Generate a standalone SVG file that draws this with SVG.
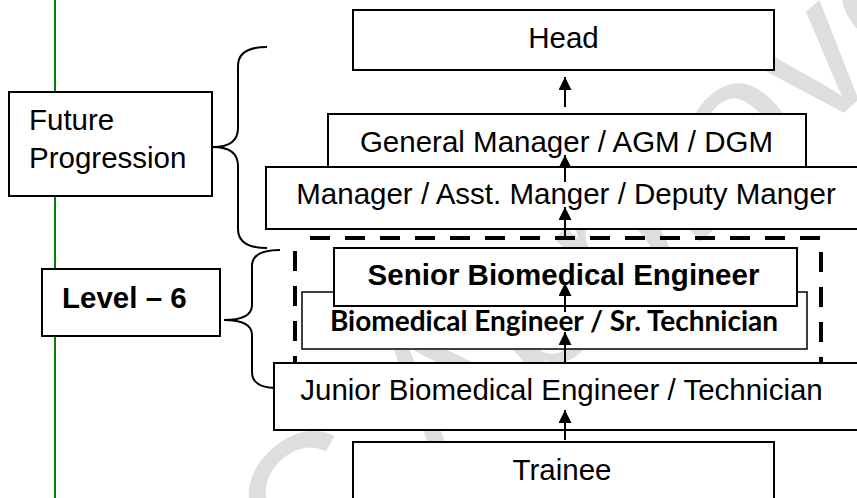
<svg xmlns="http://www.w3.org/2000/svg" width="857" height="498" viewBox="0 0 857 498">
<style>
.bg{fill:#ffffff}
.box{fill:#ffffff;stroke:#000000;stroke-width:2}
.thin{fill:#ffffff;stroke:#000000;stroke-width:1.5}
.t{font-family:"Liberation Sans",Arial,sans-serif;font-size:29.5px;fill:#000000}
.tc{text-anchor:middle}
.b{font-weight:bold}
.cal{font-family:Lato,"Liberation Sans",sans-serif;font-weight:bold;font-size:28px;fill:#000000;text-anchor:middle}
.brace{fill:none;stroke:#000000;stroke-width:2}
.conn{stroke:#000000;stroke-width:2;fill:none;marker-end:url(#ah)}
.wm{font-family:"Liberation Sans",Arial,sans-serif;font-size:190px;fill:#dedede}
</style>
<defs>
<marker id="ah" markerUnits="userSpaceOnUse" markerWidth="13" markerHeight="13" refX="13" refY="6.5" orient="auto">
<path d="M0,0 L13,6.5 L0,13 z" fill="#000000"/>
</marker>
</defs>
<rect class="bg" x="0" y="0" width="857" height="498"/>
<g id="watermark">
<text class="wm" transform="translate(312,500) rotate(-42)" x="-217" y="68">QC Approved</text>
</g>
<line id="margin-line" x1="55" y1="0" x2="55" y2="498" stroke="#008000" stroke-width="2"/>
<g id="braces">
<path class="brace" d="M267,47 Q238,47 238,66 V128 Q238,147 213,147 Q238,147 238,166 V229 Q238,248 267,248"/>
<path class="brace" d="M280,250 Q252,250 252,266 V305 Q252,320 224,320 Q252,320 252,335 V372 Q252,388 277,388"/>
</g>
<g id="future">
<rect class="box" x="9" y="92" width="203" height="104"/>
<text class="t" x="29" y="130">Future</text>
<text class="t" x="29" y="168">Progression</text>
</g>
<g id="level6">
<rect class="box" x="42" y="269" width="178" height="67"/>
<text class="t b" x="62" y="308">Level – 6</text>
</g>
<g id="head">
<rect class="box" x="353" y="10" width="421" height="60"/>
<text class="t tc" x="563.5" y="48">Head</text>
</g>
<g id="gm">
<rect class="box" x="328" y="114" width="478" height="60"/>
<text class="t tc" x="566.5" y="152">General Manager / AGM / DGM</text>
</g>
<g id="manager">
<rect class="box" x="266" y="167" width="620" height="62"/>
<text class="t tc" x="566" y="204">Manager / Asst. Manger / Deputy Manger</text>
</g>
<g id="level6-frame">
<rect x="295" y="238" width="526" height="128" fill="none" stroke="#000000" stroke-width="4" stroke-dasharray="20 15" stroke-dashoffset="20"/>
</g>
<g id="biomedical">
<rect class="thin" x="302" y="292" width="505" height="57"/>
<text class="cal" x="554" y="331">Biomedical Engineer / Sr. Technician</text>
</g>
<g id="senior">
<rect class="box" x="334" y="248" width="463" height="58"/>
<text class="t tc b" x="563.5" y="285">Senior Biomedical Engineer</text>
</g>
<g id="junior">
<rect class="box" x="274" y="363" width="620" height="67"/>
<text class="t tc" x="561.5" y="400">Junior Biomedical Engineer / Technician</text>
</g>
<g id="trainee">
<rect class="box" x="353" y="442" width="421" height="80"/>
<text class="t tc" x="562" y="480">Trainee</text>
</g>
<g id="connectors">
<line class="conn" x1="565" y1="107" x2="565" y2="77"/>
<line class="conn" x1="565" y1="182" x2="565" y2="155"/>
<line class="conn" x1="565" y1="238" x2="565" y2="207"/>
<line class="conn" x1="565" y1="312" x2="565" y2="283"/>
<line class="conn" x1="565" y1="363" x2="565" y2="332"/>
<line class="conn" x1="565" y1="440" x2="565" y2="410"/>
</g>
</svg>
